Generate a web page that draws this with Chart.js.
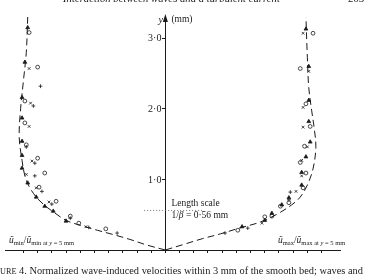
<!DOCTYPE html>
<html>
<head>
<meta charset="utf-8">
<script src="https://cdn.jsdelivr.net/npm/chart.js@4.4.1/dist/chart.umd.min.js"></script>
<style>
  html, body { margin: 0; padding: 0; background: #fff; }
</style>
</head>
<body>
<canvas id="chart" width="367" height="277"></canvas>
<script>
// y in mm, ratio = u / u at y = 5 mm. Left half (min) is plotted to the left of the axis.
const minCurve = [[0,0],[0.13,0.07],[0.25,0.15],[0.37,0.22],[0.48,0.28],[0.6,0.35],[0.7,0.42],[0.79,0.54],[0.85,0.63],[0.91,0.75],[0.96,0.9],[0.99,1.05],[1.01,1.27],[1.03,1.6],[1.02,2.0],[1.0,2.4],[0.98,2.8],[0.97,3.3]];
const maxCurve = [[0,0],[0.13,0.08],[0.26,0.16],[0.39,0.23],[0.52,0.31],[0.66,0.39],[0.78,0.5],[0.89,0.64],[0.95,0.75],[1.0,0.92],[1.04,1.15],[1.06,1.45],[1.05,1.7],[1.03,1.98],[1.01,2.3],[1.0,2.73],[0.99,3.3]];

const minTriangles = [[0.97,3.15],[0.99,2.66],[1.01,2.16],[1.01,1.87],[1.01,1.54],[1.01,1.34],[1.01,1.16],[0.97,0.95],[0.91,0.75],[0.85,0.62],[0.79,0.55],[0.70,0.41]];
const minCircles = [[0.96,3.08],[0.90,2.59],[0.99,2.11],[0.99,1.80],[0.98,1.49],[0.90,1.30],[0.85,1.09],[0.89,0.89],[0.77,0.69],[0.67,0.48],[0.61,0.38],[0.42,0.30]];
const minCrosses = [[0.96,2.57],[0.95,2.08],[0.96,1.75],[0.94,1.26],[0.98,1.07],[0.91,0.88],[0.82,0.68],[0.56,0.33]];
const minPluses = [[0.88,2.32],[0.93,2.04],[0.98,1.46],[0.92,1.23],[0.92,1.05],[0.87,0.83],[0.80,0.65],[0.67,0.45],[0.54,0.32],[0.34,0.24]];

const maxTriangles = [[0.99,3.13],[1.01,2.60],[1.01,2.12],[1.01,1.82],[1.02,1.53],[0.99,1.32],[0.96,1.10],[0.96,0.92],[0.87,0.74],[0.82,0.64],[0.75,0.52],[0.70,0.42],[0.54,0.33]];
const maxCircles = [[1.04,3.07],[0.95,2.57],[0.99,2.07],[1.02,1.75],[0.98,1.47],[0.95,1.24],[0.99,1.09],[0.97,0.88],[0.87,0.67],[0.81,0.62],[0.75,0.48],[0.70,0.47],[0.51,0.28]];
const maxCrosses = [[0.97,3.07],[1.01,2.53],[0.97,2.02],[0.97,1.74],[1.0,1.46],[0.96,1.27],[0.96,1.05],[0.92,0.83],[0.68,0.38]];
const maxPluses = [[0.88,0.82],[0.87,0.71],[0.58,0.31],[0.42,0.24]];

// length scale 1/beta = 0.56 mm
const lengthScaleY = 0.56;
const lengthScaleX = [-0.15, 0.27];

const xLabelValues = [0, 0.5, 1];
const yLabelValues = [1, 2, 3];

const INK = '#1a1a1a';
const SERIF = '"Liberation Serif", "DejaVu Serif", serif';

const toLeft = arr => arr.map(p => ({ x: -p[0], y: p[1] }));
const toRight = arr => arr.map(p => ({ x: p[0], y: p[1] }));
const fmt = v => v === 0 ? '0' : v.toFixed(1).replace('.', '\u00b7');

function curve(data) {
  return { type: 'line', data, borderColor: INK, borderWidth: 1, borderDash: [7, 4],
           pointRadius: 0, tension: 0.35, fill: false };
}
function marks(data, style, filled) {
  return { type: 'scatter', data, pointStyle: style, pointRadius: style === 'triangle' ? 2.2 : 1.9,
           borderColor: INK, borderWidth: 0.8, backgroundColor: filled ? INK : 'rgba(0,0,0,0)' };
}

// texts that are not part of the axes
function runs(ctx, x, y, parts) {
  parts.forEach(([t, size, dy, style]) => {
    ctx.font = `${style || ''} ${size}px ${SERIF}`;
    ctx.fillText(t, x, y + dy);
    x += ctx.measureText(t).width;
  });
}
function fitFont(ctx, text, width, style) {
  ctx.font = `${style || ''} 10px ${SERIF}`;
  return 10 * width / ctx.measureText(text).width;
}

const textPlugin = {
  id: 'texts',
  afterDraw(chart) {
    const ctx = chart.ctx;
    const xs = chart.scales.x, ys = chart.scales.y;
    const x0 = xs.getPixelForValue(0);
    const top = chart.chartArea.top;
    ctx.save();
    ctx.fillStyle = INK;
    ctx.textBaseline = 'alphabetic';
    ctx.textAlign = 'left';

    // running head, cut by the top of the picture
    const head = 'Interaction between waves and a turbulent current';
    let fs = fitFont(ctx, head, 217, 'italic');
    ctx.font = `italic ${fs}px ${SERIF}`;
    ctx.fillText(head, 63, 1.5);
    ctx.font = `${fs}px ${SERIF}`;
    ctx.fillText('263', 348, 1.5);

    // y tick labels, left of the centred axis
    ctx.font = `10px ${SERIF}`;
    ctx.textAlign = 'right';
    ctx.textBaseline = 'middle';
    yLabelValues.forEach(v => ctx.fillText(fmt(v), x0 - 4, ys.getPixelForValue(v) + 0.5));
    ctx.textAlign = 'left';
    ctx.textBaseline = 'alphabetic';

    // arrow head and y label
    ctx.beginPath();
    ctx.moveTo(x0, top - 3);
    ctx.lineTo(x0 - 2.5, top + 5);
    ctx.lineTo(x0 + 2.5, top + 5);
    ctx.closePath();
    ctx.fill();
    runs(ctx, x0 - 7, 23, [['y', 10, 0, 'italic']]);
    runs(ctx, x0 + 6, 22, [['(mm)', 9.5, 0]]);

    // length scale note
    const ly = ys.getPixelForValue(lengthScaleY);
    runs(ctx, x0 + 6, ly - 4, [['Length scale', 9.5, 0]]);
    runs(ctx, x0 + 6, ly + 8, [['1/', 9.5, 0], ['\u03b2', 9.5, 0, 'italic'], [' = 0\u00b756 mm', 9.5, 0]]);

    // axis titles
    const base = xs.top - 7;
    runs(ctx, 9, base, [['\u0169', 9.5, 0, 'italic'], ['min', 6.5, 2], ['/', 9.5, 0], ['\u0169', 9.5, 0, 'italic'],
                        ['min at ', 6.5, 2], ['y', 6.5, 2, 'italic'], [' = 5 mm', 6.5, 2]]);
    runs(ctx, 278, base, [['\u0169', 9.5, 0, 'italic'], ['max', 6.5, 2], ['/', 9.5, 0], ['\u0169', 9.5, 0, 'italic'],
                          ['max at ', 6.5, 2], ['y', 6.5, 2, 'italic'], [' = 5 mm', 6.5, 2]]);

    // caption, cut by the left edge
    const cap = ' 4. Normalized wave-induced velocities within 3 mm of the smooth bed; waves and';
    ctx.font = `10px ${SERIF}`;
    const wF = ctx.measureText('F').width;
    ctx.font = `8px ${SERIF}`;
    const wIG = ctx.measureText('IG').width, wURE = ctx.measureText('URE').width;
    ctx.font = `10px ${SERIF}`;
    const k = 363 / (wURE + ctx.measureText(cap).width);
    let cx = -(wF + wIG) * k;
    runs(ctx, cx, 274, [['F', 10 * k, 0], ['IGURE', 8 * k, 0], [cap, 10 * k, 0]]);
    ctx.restore();
  }
};

new Chart(document.getElementById('chart'), {
  data: {
    datasets: [
      curve(toLeft(minCurve)),
      curve(toRight(maxCurve)),
      { type: 'line', data: lengthScaleX.map(x => ({ x, y: lengthScaleY })), borderColor: '#555',
        borderWidth: 0.8, borderDash: [1, 2], pointRadius: 0 },
      marks(toLeft(minTriangles), 'triangle', true),
      marks(toLeft(minCircles), 'circle', false),
      marks(toLeft(minCrosses), 'crossRot', false),
      marks(toLeft(minPluses), 'cross', false),
      marks(toRight(maxTriangles), 'triangle', true),
      marks(toRight(maxCircles), 'circle', false),
      marks(toRight(maxCrosses), 'crossRot', false),
      marks(toRight(maxPluses), 'cross', false)
    ]
  },
  options: {
    responsive: false,
    animation: false,
    layout: { padding: { left: 5, right: 27, top: 17, bottom: 27 } },
    plugins: { legend: { display: false }, tooltip: { enabled: false } },
    scales: {
      x: {
        type: 'linear', min: -1.13, max: 1.23,
        afterFit: s => { s.height = 0; },
        border: { color: INK, width: 1 },
        grid: {
          drawOnChartArea: false, tickLength: 3,
          color: c => Math.abs(c.tick.value * 10 - Math.round(c.tick.value * 10)) < 1e-6 ? INK : 'rgba(0,0,0,0)'
        },
        ticks: {
          stepSize: 0.1, autoSkip: false, maxRotation: 0, padding: 1, color: INK,
          font: { family: SERIF, size: 10 },
          callback: v => {
            const a = Math.abs(Math.round(v * 10) / 10);
            return xLabelValues.includes(a) && Math.abs(v * 10 - Math.round(v * 10)) < 1e-6 ? fmt(a) : '';
          }
        }
      },
      y: {
        type: 'linear', min: 0, max: 3.3,
        position: { x: 0 },
        border: { color: INK, width: 1 },
        grid: {
          drawOnChartArea: false, tickLength: 3,
          color: c => Number.isInteger(Math.round(c.tick.value * 1000) / 1000) && c.tick.value > 0 ? INK : 'rgba(0,0,0,0)'
        },
        ticks: { stepSize: 1, autoSkip: false, display: false }
      }
    }
  },
  plugins: [textPlugin]
});
</script>
</body>
</html>
